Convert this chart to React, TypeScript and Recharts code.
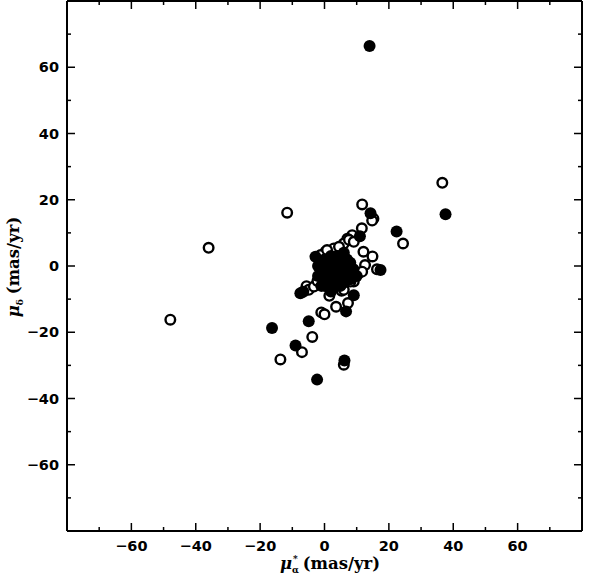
import React from "react";
import { ScatterChart, Scatter, XAxis, YAxis } from "recharts";

// Filled symbols [mu_alpha*, mu_delta] (mas/yr)
const filledPoints: [number, number][] = [
  [14.0, 66.4], [37.6, 15.6], [14.3, 15.9], [22.4, 10.4], [11.0, 9.0], [17.4, -1.2],
  [-16.3, -18.7], [-4.9, -16.7], [-9.0, -24.0], [6.2, -28.5], [-2.3, -34.3], [6.7, -13.7],
  [9.1, -8.8], [-7.5, -8.2], [-6.6, -7.8], [-2.8, 2.8], [2.0, -7.7], [-1.2, 1.2],
  [1, 0], [2, -2], [3, 1], [4, -1], [5, -3], [6, 0], [7, -2], [8, -4], [3, -4], [5, 2],
  [2, 3], [0, -3], [-1, -1], [9, -1], [4, -5], [6, -5], [1, -5], [7, 2], [8, 1], [10, -3],
  [0, 2], [-2, 0], [3, -6], [5, -6], [-2, -3], [-1, -6], [0, -6], [4, 3], [6, 4],
];

// Open symbols
const openPoints: [number, number][] = [
  [36.6, 25.1], [-11.6, 16.1], [-36.0, 5.5], [-47.9, -16.2], [11.7, 18.6], [15.2, 14.3],
  [24.4, 6.8], [14.9, 2.9], [16.3, -1.0], [-3.8, -21.4], [-7.0, -26.0], [-13.7, -28.2],
  [6.0, -29.8], [-1.0, -14.0], [0.0, -14.6], [3.6, -12.3], [7.3, -11.2], [5.3, -7.5],
  [-4.6, -6.7], [-5.6, -6.1], [-4.9, -7.2], [-3.3, -6.2], [14.8, 13.7], [11.6, 11.4],
  [8.6, 9.3], [7.1, 8.2], [6.0, 6.8], [2.9, 5.3], [0.3, 4.3], [-1.2, 3.3], [12.6, 0.3],
  [12.1, 4.3], [10.5, -2.2], [9.1, -4.7], [6.0, -7.2], [7.6, 7.9], [9.1, 7.3], [0.8, 4.8],
  [11.7, -1.7], [8.1, -4.7], [4.5, 5.8], [-2.2, -4.5], [1.5, -9.0],
];

const axisDomain: [number, number] = [-80, 80];
const tickValues = [-70, -60, -50, -40, -30, -20, -10, 0, 10, 20, 30, 40, 50, 60, 70];

const FONT = "'DejaVu Sans', sans-serif";
const TITLE_FONT = "'DejaVu Serif', serif";
const fmt = (v: number) => (v < 0 ? "\u2212" + Math.abs(v) : String(v));
const isMajor = (v: number) => v % 20 === 0;

const BottomTick = (p: any) => {
  const v = p.payload.value;
  return (
    <g>
      <line x1={p.x} x2={p.x} y1={p.y} y2={p.y - (isMajor(v) ? 8 : 4)} stroke="#000" strokeWidth={1.5} />
      {isMajor(v) && (
        <text x={p.x} y={p.y + 20} textAnchor="middle" fontFamily={FONT} fontWeight="bold" fontSize={14.5} fill="#000">
          {fmt(v)}
        </text>
      )}
    </g>
  );
};
const TopTick = (p: any) => {
  const v = p.payload.value;
  return <line x1={p.x} x2={p.x} y1={p.y} y2={p.y + (isMajor(v) ? 8 : 4)} stroke="#000" strokeWidth={1.5} />;
};
const LeftTick = (p: any) => {
  const v = p.payload.value;
  return (
    <g>
      <line x1={p.x} x2={p.x + (isMajor(v) ? 8 : 4)} y1={p.y} y2={p.y} stroke="#000" strokeWidth={1.5} />
      {isMajor(v) && (
        <text x={p.x - 8} y={p.y} dy="0.36em" textAnchor="end" fontFamily={FONT} fontWeight="bold" fontSize={14.5} fill="#000">
          {fmt(v)}
        </text>
      )}
    </g>
  );
};
const RightTick = (p: any) => {
  const v = p.payload.value;
  return <line x1={p.x} x2={p.x - (isMajor(v) ? 8 : 4)} y1={p.y} y2={p.y} stroke="#000" strokeWidth={1.5} />;
};

const FilledDot = (p: any) => <circle cx={p.cx} cy={p.cy} r={6} fill="#000" />;
const OpenDot = (p: any) => <circle cx={p.cx} cy={p.cy} r={4.8} fill="#fff" stroke="#000" strokeWidth={2.4} />;
const NoDot = () => <g />;

export default function App() {
  const filled = filledPoints.map(([x, y]) => ({ x, y }));
  const open = openPoints.map(([x, y]) => ({ x, y }));
  const axisLine = { stroke: "#000", strokeWidth: 2 };
  return (
    <div style={{ position: "absolute", left: 0, top: 0, width: 596, height: 580, background: "#fff" }}>
      <ScatterChart width={596} height={580} margin={{ top: 0, right: 13, bottom: 0, left: 0 }}>
        <XAxis xAxisId="b" type="number" dataKey="x" domain={axisDomain} ticks={tickValues} interval={0}
          orientation="bottom" height={49} tickSize={0} tickMargin={0} tickLine={false} axisLine={axisLine}
          tick={<BottomTick />} allowDataOverflow />
        <XAxis xAxisId="t" type="number" dataKey="x" domain={axisDomain} ticks={tickValues} interval={0}
          orientation="top" height={1} tickSize={0} tickMargin={0} tickLine={false} axisLine={axisLine}
          tick={<TopTick />} allowDataOverflow />
        <YAxis yAxisId="l" type="number" dataKey="y" domain={axisDomain} ticks={tickValues} interval={0}
          orientation="left" width={67} tickSize={0} tickMargin={0} tickLine={false} axisLine={axisLine}
          tick={<LeftTick />} allowDataOverflow />
        <YAxis yAxisId="r" type="number" dataKey="y" domain={axisDomain} ticks={tickValues} interval={0}
          orientation="right" width={1} tickSize={0} tickMargin={0} tickLine={false} axisLine={axisLine}
          tick={<RightTick />} allowDataOverflow />
        <Scatter data={open} xAxisId="t" yAxisId="r" shape={<NoDot />} isAnimationActive={false} />
        <Scatter data={open} xAxisId="b" yAxisId="l" shape={<OpenDot />} isAnimationActive={false} />
        <Scatter data={filled} xAxisId="b" yAxisId="l" shape={<FilledDot />} isAnimationActive={false} />
      </ScatterChart>
      <svg width={596} height={580} style={{ position: "absolute", left: 0, top: 0, pointerEvents: "none" }}>
        <text x={330} y={569} textAnchor="middle" fontFamily={TITLE_FONT} fontWeight="bold" fontSize={16.5} fill="#000">
          <tspan fontStyle="italic">μ</tspan>
          <tspan fontSize={9} dy={4}>α</tspan>
          <tspan fontSize={9} dx={-6} dy={-11}>*</tspan>
          <tspan dx={5} dy={7}>(mas/yr)</tspan>
        </text>
        <text transform="translate(19,267) rotate(-90)" textAnchor="middle" fontFamily={TITLE_FONT} fontWeight="bold" fontSize={16.5} fill="#000">
          <tspan fontStyle="italic">μ</tspan>
          <tspan fontSize={9} dy={4}>δ</tspan>
          <tspan dx={5} dy={-4}>(mas/yr)</tspan>
        </text>
      </svg>
    </div>
  );
}
